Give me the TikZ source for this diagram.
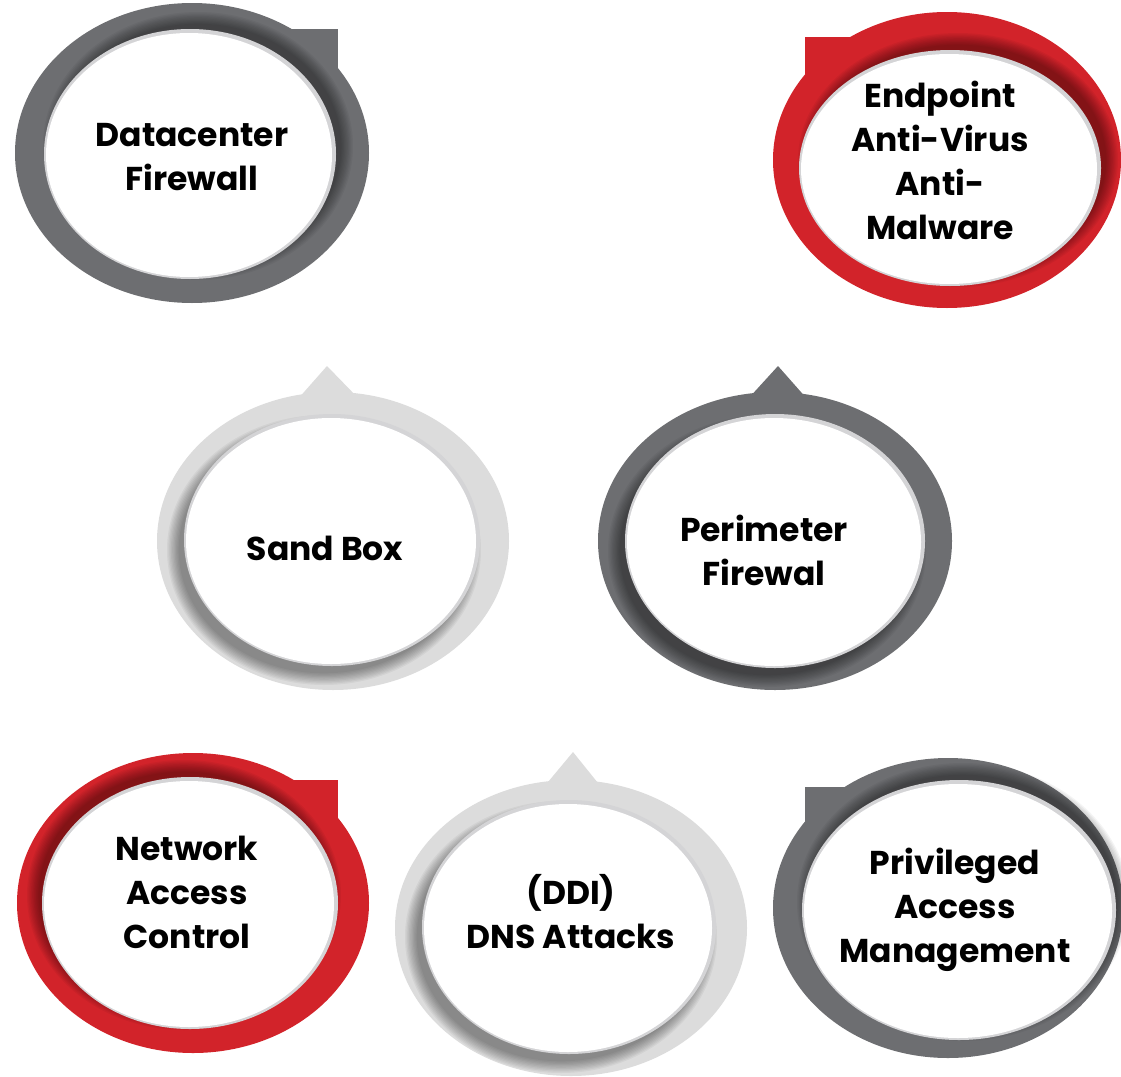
\documentclass[tikz,border=0pt]{standalone}
\usepackage{fontspec}
\setmainfont{Poppins}
\definecolor{rd}{HTML}{D2232A}
\definecolor{dg}{HTML}{6D6E71}
\definecolor{lg}{HTML}{DCDCDC}
\definecolor{rimc}{HTML}{D4D4D6}
\tikzset{
  lbl/.style={font=\fontsize{33}{44}\selectfont\bfseries, align=center, text=black, inner sep=0pt},
}
% inner disc with soft shadow: #1 cx, #2 cy, #3 rx, #4 ry, #5 dx, #6 dy
\newcommand\innerdisc[6]{%
  \foreach \k in {0,...,9}{%
    \fill[black,opacity=0.045] ({#1+#5},{#2+#6}) ellipse [x radius={(#3+12-1.3*\k)*1pt}, y radius={(#4+12-1.3*\k)*1pt}];
  }%
  \fill[rimc] (#1,#2) ellipse [x radius={(#3+3)*1pt}, y radius={(#4+3)*1pt}];
  \fill[white] ({#1-1},{#2+1}) ellipse [x radius={#3*1pt}, y radius={#4*1pt}];
}
\begin{document}
\begin{tikzpicture}[x=1pt,y=-1pt]
\useasboundingbox (0,0) rectangle (1121,1076);

% 1 Datacenter Firewall
\fill[dg] (192,153) ellipse [x radius=177pt, y radius=150pt];
\fill[dg] (192,153) rectangle (338,29);
\innerdisc{190}{154}{143}{122}{8}{-8}
\node[lbl] (dcf) at (192,157) {Datacenter\\Firewall};

% 2 Endpoint
\fill[rd] (947,160) ellipse [x radius=174pt, y radius=148pt];
\fill[rd] (947,160) rectangle (805,37);
\innerdisc{950}{168}{148}{115}{8}{-8}
\node[lbl] (epa) at (940,160) {Endpoint\\Anti-Virus\\Anti-\\Malware};

% 3 Sand Box
\fill[lg] (333,541) ellipse [x radius=176pt, y radius=149pt];
\fill[lg] (297,400) -- (327,366) -- (360,400) -- cycle;
\innerdisc{332}{540}{145}{123}{-8}{10}
\node[lbl] (sbx) at (325,548) {Sand Box};

% 4 Perimeter
\fill[dg] (775,541) ellipse [x radius=177pt, y radius=149pt];
\fill[dg] (747,400) -- (778,366) -- (808,400) -- cycle;
\innerdisc{775}{541}{147}{124}{-8}{10}
\node[lbl] (pfw) at (764,550) {Perimeter\\Firewal};

% 5 NAC
\fill[rd] (193,903) ellipse [x radius=176pt, y radius=150pt];
\fill[rd] (193,903) rectangle (338,780);
\innerdisc{190}{903}{145}{123}{-6}{-8}
\node[lbl] (nac) at (187,892) {Network\\Access\\Control};

% 6 DDI
\fill[lg] (571,928) ellipse [x radius=176pt, y radius=148pt];
\fill[lg] (543,788) -- (573,752) -- (602,788) -- cycle;
\innerdisc{569}{927}{144}{124}{-8}{10}
\node[lbl] (ddi) at (571,912) {(DDI)\\DNS Attacks};

% 7 PAM
\fill[dg] (948,908) ellipse [x radius=175pt, y radius=150pt];
\fill[dg] (948,908) rectangle (805,787);
\innerdisc{959}{910}{154}{127}{4}{-8}
\node[lbl] (pam) at (955,910) {Privileged\\Access\\Management};
\end{tikzpicture}
\end{document}
